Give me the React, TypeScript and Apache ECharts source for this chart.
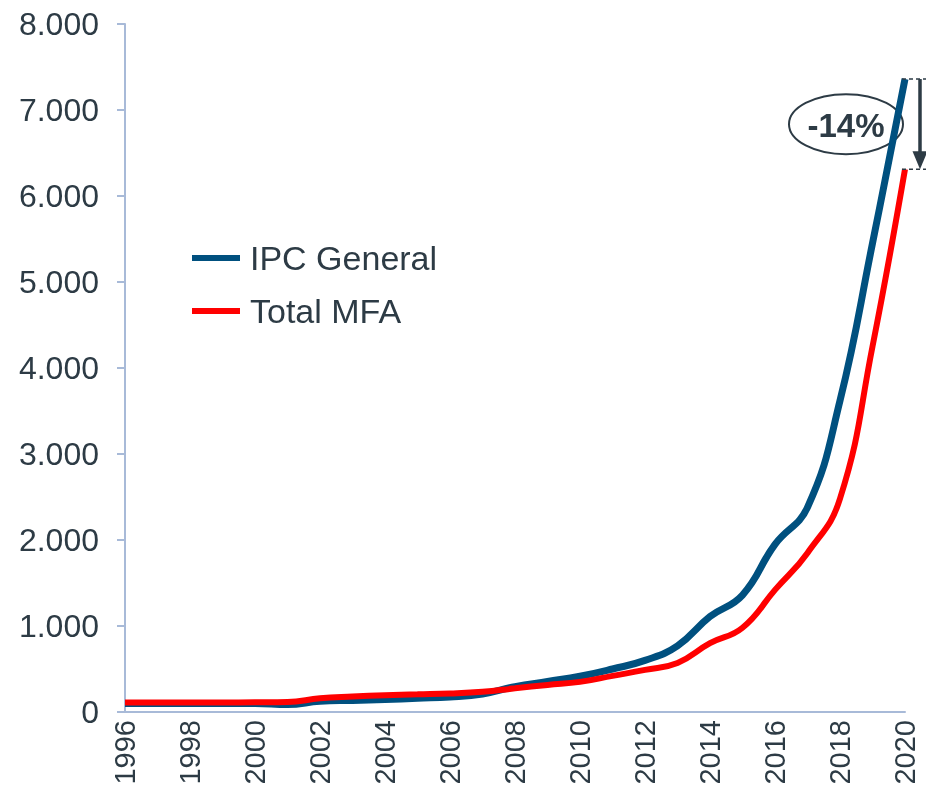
import React, { useEffect, useRef } from "react";
import * as echarts from "echarts";

const years = [1996, 1997, 1998, 1999, 2000, 2001, 2002, 2003, 2004, 2005, 2006, 2007, 2008, 2009, 2010, 2011, 2012, 2013, 2014, 2015, 2016, 2017, 2018, 2019, 2020];
const ipcGeneral = [100, 100, 100, 100, 100, 88, 125, 135, 145, 160, 175, 210, 295, 355, 415, 500, 600, 770, 1110, 1360, 1950, 2380, 3620, 5450, 7360];
const totalMFA = [110, 110, 110, 110, 112, 115, 160, 180, 195, 205, 215, 235, 275, 315, 350, 420, 490, 570, 800, 980, 1420, 1850, 2480, 4250, 6310];
const seriesNames = ["IPC General", "Total MFA"];
const changeLabel = "-14%";

const TEXT = "#2d3b45";
const AXIS = "#a8bad8";
const BLUE = "#00507f";
const RED = "#ff0000";
const FONT = "'Liberation Sans', Arial, sans-serif";

function fmt(v: number) {
  return String(v).replace(/\B(?=(\d{3})+(?!\d))/g, ".");
}

export default function App() {
  const ref = useRef<HTMLDivElement>(null);
  useEffect(() => {
    if (!ref.current) return;
    const chart = echarts.init(ref.current, null, { renderer: "svg" });
    chart.setOption({
      animation: false,
      textStyle: { fontFamily: FONT },
      grid: { left: 125, right: 21, top: 24, bottom: 74, containLabel: false, outerBoundsMode: "none" },
      legend: {
        orient: "vertical",
        left: 192,
        top: 240,
        padding: 0,
        icon: "rect",
        itemWidth: 48,
        itemHeight: 6,
        itemGap: 17,
        data: seriesNames,
        textStyle: { fontSize: 34, color: TEXT, fontFamily: FONT, lineHeight: 36, padding: [0, 0, 0, 5] },
      },
      xAxis: {
        type: "value",
        min: 1996,
        max: 2020,
        interval: 2,
        splitLine: { show: false },
        axisTick: { show: false },
        axisLine: { lineStyle: { color: AXIS, width: 2 } },
        axisLabel: {
          rotate: 90,
          margin: 8,
          fontSize: 29,
          color: TEXT,
          fontFamily: FONT,
          formatter: (v: number) => String(v),
        },
      },
      yAxis: {
        type: "value",
        min: 0,
        max: 8000,
        interval: 1000,
        splitLine: { show: false },
        axisLine: { show: true, lineStyle: { color: AXIS, width: 2 } },
        axisTick: { show: true, length: 8, lineStyle: { color: AXIS, width: 2 } },
        axisLabel: { margin: 26, fontSize: 32, color: TEXT, fontFamily: FONT, formatter: (v: number) => fmt(v) },
      },
      series: [
        {
          name: seriesNames[0],
          type: "line",
          smooth: 0.45,
          showSymbol: false,
          symbol: "none",
          data: years.map((y, i) => [y, ipcGeneral[i]]),
          lineStyle: { color: BLUE, width: 7 },
          itemStyle: { color: BLUE },
        },
        {
          name: seriesNames[1],
          type: "line",
          smooth: 0.45,
          showSymbol: false,
          symbol: "none",
          data: years.map((y, i) => [y, totalMFA[i]]),
          lineStyle: { color: RED, width: 6 },
          itemStyle: { color: RED },
        },
      ],
    });

    const last = years.length - 1;
    const pTop = chart.convertToPixel({ gridIndex: 0 }, [years[last], ipcGeneral[last]]) as number[];
    const pBot = chart.convertToPixel({ gridIndex: 0 }, [years[last], totalMFA[last]]) as number[];
    const W = chart.getWidth();
    const xEnd = pTop[0];
    const yT = pTop[1];
    const yB = pBot[1];
    const ax = xEnd + 15;
    const midY = (yT + yB) / 2;
    chart.setOption({
      graphic: [
        { type: "line", shape: { x1: xEnd - 3, y1: yT, x2: W, y2: yT }, style: { stroke: TEXT, lineWidth: 1.5, lineDash: [4, 3] }, z: 10 },
        { type: "line", shape: { x1: xEnd - 3, y1: yB, x2: W, y2: yB }, style: { stroke: TEXT, lineWidth: 1.5, lineDash: [4, 3] }, z: 10 },
        { type: "line", shape: { x1: ax, y1: yT, x2: ax, y2: yB - 14 }, style: { stroke: TEXT, lineWidth: 3.5 }, z: 10 },
        { type: "polygon", shape: { points: [[ax - 7.5, yB - 18], [ax + 7.5, yB - 18], [ax, yB]] }, style: { fill: TEXT }, z: 10 },
        { type: "ellipse", shape: { cx: xEnd - 59, cy: midY, rx: 57, ry: 30 }, style: { fill: "rgba(255,255,255,0)", stroke: TEXT, lineWidth: 2 }, z: 1 },
        {
          type: "text",
          x: xEnd - 59,
          y: midY + 1,
          z: 12,
          style: { text: changeLabel, fill: TEXT, font: `bold 33px ${FONT}`, align: "center", verticalAlign: "middle" },
        },
      ],
    });
    return () => chart.dispose();
  }, []);
  return <div ref={ref} style={{ position: "fixed", left: 0, top: 0, width: 926, height: 786 }} />;
}
